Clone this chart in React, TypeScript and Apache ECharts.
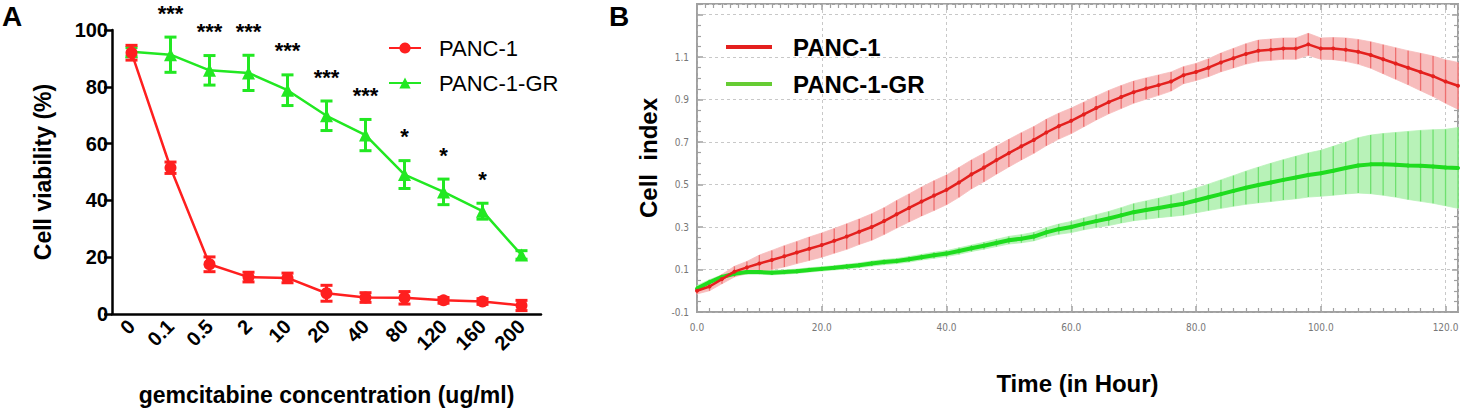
import React, { useEffect, useRef } from "react";
import * as echarts from "echarts";

const FONT = "'Liberation Sans', Arial, Helvetica, sans-serif";
const NARROW = "'Liberation Sans Narrow', 'DejaVu Sans Condensed', 'Liberation Sans', sans-serif";

// ---------- Panel A : viability vs gemcitabine ----------
const concentrations = ["0", "0.1", "0.5", "2", "10", "20", "40", "80", "120", "160", "200"];
const panc1Mean = [92, 51.5, 17.5, 13, 12.7, 7.3, 5.8, 5.7, 4.8, 4.4, 3];
const panc1Err = [2.6, 2, 2.6, 1.7, 1.7, 2.8, 1.7, 2.2, 1, 1, 1.8];
const grMean = [92.3, 91.3, 85.8, 84.9, 78.8, 69.8, 63, 49.1, 43, 36.2, 20.8];
const grErr = [1.5, 6.2, 5.2, 6.2, 5.4, 5.2, 5.5, 4.9, 4.5, 2.8, 1.5];
const significance = ["", "***", "***", "***", "***", "***", "***", "*", "*", "*", ""];

// ---------- Panel B : cell index over time ----------
const hours = [0, 2, 4, 6, 8, 10, 12, 14, 16, 18, 20, 22, 24, 26, 28, 30, 32, 34, 36, 38, 40, 42, 44, 46, 48, 50, 52, 54, 56, 58, 60, 62, 64, 66, 68, 70, 72, 74, 76, 78, 80, 82, 84, 86, 88, 90, 92, 94, 96, 98, 100, 102, 104, 106, 108, 110, 112, 114, 116, 118, 120, 122];
const panc1Index = [0.0, 0.02, 0.055, 0.09, 0.11, 0.128, 0.145, 0.162, 0.18, 0.198, 0.215, 0.235, 0.255, 0.278, 0.3, 0.328, 0.36, 0.39, 0.42, 0.448, 0.475, 0.51, 0.548, 0.58, 0.615, 0.648, 0.68, 0.71, 0.745, 0.775, 0.8, 0.83, 0.86, 0.888, 0.912, 0.935, 0.952, 0.968, 0.985, 1.015, 1.03, 1.05, 1.075, 1.095, 1.115, 1.13, 1.135, 1.14, 1.14, 1.16, 1.14, 1.14, 1.135, 1.125, 1.11, 1.09, 1.07, 1.05, 1.03, 1.01, 0.985, 0.965];
const panc1IndexErr = [0.015, 0.02, 0.022, 0.025, 0.028, 0.04, 0.045, 0.05, 0.052, 0.055, 0.057, 0.058, 0.06, 0.06, 0.062, 0.063, 0.065, 0.066, 0.068, 0.07, 0.07, 0.07, 0.068, 0.067, 0.066, 0.065, 0.064, 0.063, 0.062, 0.061, 0.06, 0.058, 0.056, 0.055, 0.054, 0.052, 0.05, 0.048, 0.045, 0.04, 0.04, 0.042, 0.044, 0.046, 0.048, 0.05, 0.05, 0.05, 0.05, 0.052, 0.05, 0.052, 0.055, 0.058, 0.062, 0.068, 0.074, 0.08, 0.088, 0.095, 0.102, 0.11];
const grIndex = [0.01, 0.04, 0.065, 0.08, 0.088, 0.088, 0.085, 0.088, 0.092, 0.098, 0.103, 0.108, 0.114, 0.12, 0.128, 0.135, 0.14, 0.148, 0.158, 0.167, 0.175, 0.187, 0.2, 0.212, 0.225, 0.238, 0.245, 0.255, 0.275, 0.29, 0.3, 0.315, 0.328, 0.34, 0.355, 0.37, 0.38, 0.39, 0.4, 0.41, 0.425, 0.44, 0.455, 0.47, 0.485, 0.498, 0.51, 0.522, 0.533, 0.545, 0.553, 0.565, 0.578, 0.59, 0.595, 0.595, 0.593, 0.59, 0.588, 0.585, 0.58, 0.578];
const grIndexErr = [0.015, 0.012, 0.01, 0.01, 0.01, 0.01, 0.01, 0.01, 0.01, 0.01, 0.01, 0.01, 0.011, 0.011, 0.012, 0.012, 0.012, 0.013, 0.013, 0.014, 0.014, 0.015, 0.015, 0.016, 0.017, 0.018, 0.019, 0.02, 0.022, 0.024, 0.026, 0.028, 0.03, 0.033, 0.036, 0.04, 0.043, 0.046, 0.05, 0.054, 0.058, 0.062, 0.067, 0.072, 0.078, 0.084, 0.09, 0.095, 0.1, 0.104, 0.108, 0.115, 0.122, 0.13, 0.138, 0.145, 0.152, 0.16, 0.167, 0.173, 0.18, 0.19];
const cellIndexTicks = [-0.1, 0.1, 0.3, 0.5, 0.7, 0.9, 1.1];
const timeTicks = [0, 20, 40, 60, 80, 100, 120];
const CI_MIN = -0.1;
const CI_MAX = 1.35;
const T_MAX = 122;

const RED_A = "#ff1f1f";
const GREEN_A = "#22e822";
const RED_B = "#e4201e";
const GREEN_B = "#1fdc1f";

function errorBarRenderer(color: string, capHalf: number, width: number) {
  return (params: any, api: any) => {
    const x = api.value(0);
    const lo = api.coord([x, api.value(1)]);
    const hi = api.coord([x, api.value(2)]);
    const style = { stroke: color, lineWidth: width };
    return {
      type: "group",
      children: [
        { type: "line", shape: { x1: lo[0], y1: lo[1], x2: hi[0], y2: hi[1] }, style },
        { type: "line", shape: { x1: hi[0] - capHalf, y1: hi[1], x2: hi[0] + capHalf, y2: hi[1] }, style },
        { type: "line", shape: { x1: lo[0] - capHalf, y1: lo[1], x2: lo[0] + capHalf, y2: lo[1] }, style },
      ],
    };
  };
}

function bandRenderer(times: number[], means: number[], errs: number[], fill: string, stripe: string) {
  return (params: any, api: any) => {
    const i = params.dataIndex;
    const t = api.value(0);
    const lo = api.coord([t, api.value(1)]);
    const hi = api.coord([t, api.value(2)]);
    const children: any[] = [];
    if (i < times.length - 1) {
      const lo2 = api.coord([times[i + 1], means[i + 1] - errs[i + 1]]);
      const hi2 = api.coord([times[i + 1], means[i + 1] + errs[i + 1]]);
      children.push({
        type: "polygon",
        shape: { points: [lo, lo2, hi2, hi] },
        style: { fill, stroke: fill, lineWidth: 0.8 },
      });
    }
    children.push({
      type: "line",
      shape: { x1: lo[0], y1: lo[1], x2: hi[0], y2: hi[1] },
      style: { stroke: stripe, lineWidth: 1.3 },
    });
    return { type: "group", children };
  };
}

function buildOption() {
  const aLabel = { fontFamily: FONT, fontWeight: "bold", color: "#000" };
  const axisBlack = { lineStyle: { color: "#000", width: 2.5 } };
  const grayLine = { color: "#a0a0a0", width: 1.5 };

  return {
    animation: false,
    backgroundColor: "#fff",
    title: [
      { text: "A", left: 2, top: 2, padding: 0, textStyle: { ...aLabel, fontSize: 28 } },
      { text: "B", left: 609, top: 2, padding: 0, textStyle: { ...aLabel, fontSize: 28 } },
    ],
    legend: [
      {
        left: 383,
        top: 31,
        orient: "vertical",
        itemWidth: 32,
        itemHeight: 14,
        itemGap: 11,
        data: ["PANC-1", "PANC-1-GR"],
        textStyle: { fontFamily: FONT, fontSize: 22, color: "#000", lineHeight: 24, padding: [0, 0, 0, 13] },
      },
      {
        left: 721,
        top: 29,
        orient: "vertical",
        itemWidth: 46,
        itemHeight: 4,
        itemGap: 11,
        icon: "rect",
        data: [
          { name: "PANC-1", itemStyle: { color: RED_B } },
          { name: "PANC-1-GR", itemStyle: { color: "#66cc33" } },
        ],
        textStyle: { fontFamily: FONT, fontSize: 24, fontWeight: "bold", color: "#000", lineHeight: 26, padding: [0, 0, 0, 16] },
      },
    ],
    grid: [
      { left: 112, top: 30, width: 429, height: 287 },
      { left: 697, top: 4, width: 761, height: 308, show: true, borderColor: "#a0a0a0", borderWidth: 2, backgroundColor: "transparent" },
    ],
    xAxis: [
      {
        type: "category",
        gridIndex: 0,
        data: concentrations,
        boundaryGap: true,
        axisLine: axisBlack,
        axisTick: { alignWithLabel: true, length: 8, lineStyle: { color: "#000", width: 2.5 } },
        axisLabel: { ...aLabel, fontSize: 20, rotate: 45, margin: 9, interval: 0 },
        name: "gemcitabine concentration (ug/ml)",
        nameLocation: "middle",
        nameGap: 69,
        nameTextStyle: { ...aLabel, fontSize: 23 },
      },
      {
        type: "value",
        gridIndex: 1,
        position: "bottom",
        min: 0,
        max: T_MAX,
        interval: 20,
        axisLine: { show: true, onZero: false, lineStyle: grayLine },
        axisTick: { show: true, inside: true, length: 6, lineStyle: grayLine },
        minorTick: { show: true, splitNumber: 10, length: 4, lineStyle: { color: "#a0a0a0", width: 1.2 } },
        axisLabel: {
          fontFamily: NARROW,
          fontSize: 10,
          color: "#777",
          margin: 10,
          formatter: (v: number) => (timeTicks.includes(Math.round(v)) && Math.abs(v - Math.round(v)) < 1e-6 ? v.toFixed(1) : ""),
        },
        splitLine: { show: true, lineStyle: { color: "#c8c8c8", type: [3, 3], width: 1 } },
        name: "Time (in Hour)",
        nameLocation: "middle",
        nameGap: 59,
        nameTextStyle: { ...aLabel, fontSize: 24 },
      },
      {
        type: "value",
        gridIndex: 1,
        position: "top",
        min: 0,
        max: T_MAX,
        interval: 20,
        axisLine: { show: false, onZero: false },
        axisTick: { show: true, inside: true, length: 6, lineStyle: grayLine },
        minorTick: { show: true, splitNumber: 15, length: 4, lineStyle: { color: "#a0a0a0", width: 1.2 } },
        axisLabel: { show: false },
        splitLine: { show: false },
      },
    ],
    yAxis: [
      {
        type: "value",
        gridIndex: 0,
        min: 0,
        max: 100,
        interval: 20,
        axisLine: { show: true, ...axisBlack },
        axisTick: { show: true, length: 8, lineStyle: { color: "#000", width: 2.5 } },
        axisLabel: { ...aLabel, fontSize: 20, margin: 4 },
        splitLine: { show: false },
        name: "Cell viability (%)",
        nameLocation: "middle",
        nameGap: 58,
        nameTextStyle: { ...aLabel, fontSize: 23 },
      },
      {
        // data axis for panel B (real cell-index units)
        type: "value",
        gridIndex: 1,
        position: "left",
        min: CI_MIN,
        max: CI_MAX,
        show: false,
      },
      {
        // visible cell-index axis, shifted by +0.1 so ticks fall on -0.1, 0.1, 0.3 ...
        type: "value",
        gridIndex: 1,
        position: "left",
        min: 0,
        max: CI_MAX - CI_MIN,
        interval: 0.2,
        axisLine: { show: true, onZero: false, lineStyle: grayLine },
        axisTick: { show: true, inside: true, length: 6, lineStyle: grayLine },
        minorTick: { show: true, splitNumber: 4, length: 4, lineStyle: { color: "#a0a0a0", width: 1.2 } },
        axisLabel: {
          fontFamily: NARROW,
          fontSize: 10,
          color: "#777",
          margin: 8,
          formatter: (v: number) => {
            const real = Math.round((v + CI_MIN) * 10) / 10;
            return cellIndexTicks.some((t) => Math.abs(t - real) < 1e-6) && Math.abs(v + CI_MIN - real) < 1e-6 ? real.toFixed(1) : "";
          },
        },
        splitLine: { show: true, lineStyle: { color: "#c8c8c8", type: [3, 3], width: 1 } },
        name: "Cell  index",
        nameLocation: "middle",
        nameGap: 33,
        nameTextStyle: { ...aLabel, fontSize: 24 },
      },
      {
        type: "value",
        gridIndex: 1,
        position: "right",
        min: 0,
        max: CI_MAX - CI_MIN,
        interval: 0.2,
        axisLine: { show: false, onZero: false },
        axisTick: { show: true, inside: true, length: 6, lineStyle: grayLine },
        minorTick: { show: true, splitNumber: 4, length: 4, lineStyle: { color: "#a0a0a0", width: 1.2 } },
        axisLabel: { show: false },
        splitLine: { show: false },
      },
    ],
    series: [
      // ---- Panel A ----
      {
        type: "custom",
        name: "gr-err",
        xAxisIndex: 0,
        yAxisIndex: 0,
        data: grMean.map((m, i) => [i, m - grErr[i], m + grErr[i]]),
        renderItem: errorBarRenderer(GREEN_A, 6, 3),
        z: 2,
        silent: true,
      },
      {
        type: "line",
        name: "PANC-1-GR",
        xAxisIndex: 0,
        yAxisIndex: 0,
        data: grMean,
        symbol: "triangle",
        symbolSize: 13,
        color: GREEN_A,
        lineStyle: { width: 2.5, color: GREEN_A },
        itemStyle: { color: GREEN_A },
        z: 3,
      },
      {
        type: "custom",
        name: "panc1-err",
        xAxisIndex: 0,
        yAxisIndex: 0,
        data: panc1Mean.map((m, i) => [i, m - panc1Err[i], m + panc1Err[i]]),
        renderItem: errorBarRenderer(RED_A, 6, 3),
        z: 4,
        silent: true,
      },
      {
        type: "line",
        name: "PANC-1",
        xAxisIndex: 0,
        yAxisIndex: 0,
        data: panc1Mean,
        symbol: "circle",
        symbolSize: 12,
        color: RED_A,
        lineStyle: { width: 2.5, color: RED_A },
        itemStyle: { color: RED_A },
        z: 5,
      },
      {
        type: "custom",
        name: "significance",
        xAxisIndex: 0,
        yAxisIndex: 0,
        data: grMean.map((m, i) => [i, m + grErr[i]]),
        renderItem: (params: any, api: any) => {
          const i = params.dataIndex;
          const txt = significance[i];
          if (!txt) return null;
          const p = api.coord([api.value(0), api.value(1)]);
          return {
            type: "text",
            x: p[0],
            y: p[1] - 24,
            style: {
              text: txt,
              fill: "#000",
              font: `bold 22px ${FONT}`,
              align: "center",
              verticalAlign: "middle",
            },
          };
        },
        z: 6,
        silent: true,
      },
      // ---- Panel B ----
      {
        type: "custom",
        name: "gr-band",
        xAxisIndex: 1,
        yAxisIndex: 1,
        data: hours.map((h, i) => [h, grIndex[i] - grIndexErr[i], grIndex[i] + grIndexErr[i]]),
        renderItem: bandRenderer(hours, grIndex, grIndexErr, "#b8f2b8", "#6fe06f"),
        z: 1,
        silent: true,
      },
      {
        type: "custom",
        name: "panc1-band",
        xAxisIndex: 1,
        yAxisIndex: 1,
        data: hours.map((h, i) => [h, panc1Index[i] - panc1IndexErr[i], panc1Index[i] + panc1IndexErr[i]]),
        renderItem: bandRenderer(hours, panc1Index, panc1IndexErr, "#f7bcbc", "#ee6f6f"),
        z: 1,
        silent: true,
      },
      {
        type: "line",
        name: "PANC-1-GR",
        xAxisIndex: 1,
        yAxisIndex: 1,
        data: hours.map((h, i) => [h, grIndex[i]]),
        symbol: "circle",
        symbolSize: 4,
        showSymbol: true,
        color: GREEN_B,
        itemStyle: { color: GREEN_B },
        lineStyle: { width: 4, color: GREEN_B },
        z: 3,
      },
      {
        type: "line",
        name: "PANC-1",
        xAxisIndex: 1,
        yAxisIndex: 1,
        data: hours.map((h, i) => [h, panc1Index[i]]),
        symbol: "circle",
        symbolSize: 4,
        showSymbol: true,
        color: RED_B,
        itemStyle: { color: RED_B },
        lineStyle: { width: 2.5, color: RED_B },
        z: 4,
      },
    ],
  };
}

export default function App() {
  const ref = useRef<HTMLDivElement>(null);
  useEffect(() => {
    if (!ref.current) return;
    const chart = echarts.init(ref.current, null, { renderer: "svg" });
    chart.setOption(buildOption() as any);
    return () => chart.dispose();
  }, []);
  return (
    <div
      ref={ref}
      style={{ position: "fixed", left: 0, top: 0, width: "1465px", height: "411px", background: "#fff" }}
    />
  );
}
